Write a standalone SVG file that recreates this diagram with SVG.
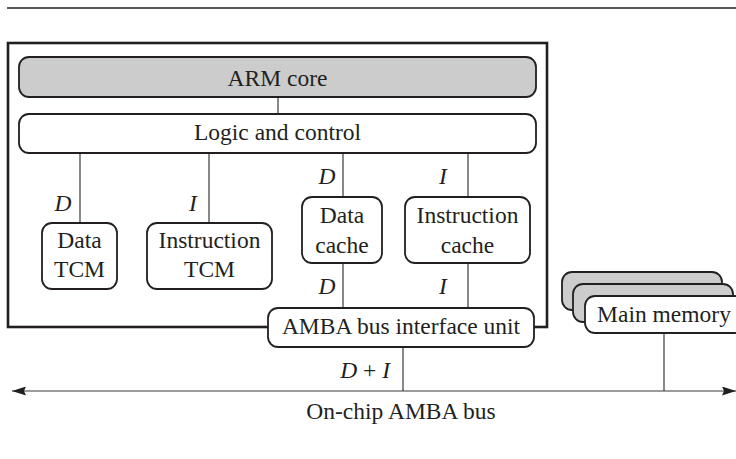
<svg xmlns="http://www.w3.org/2000/svg" width="736" height="459" viewBox="0 0 736 459">
<style>
.box{fill:#ffffff;stroke:#231f20;stroke-width:1.8}
.gray{fill:#cccccc;stroke:#231f20;stroke-width:1.8}
.outer{fill:none;stroke:#231f20;stroke-width:2.6}
.ln{stroke:#3a3a3a;stroke-width:1.2;fill:none}
text{font-family:"Liberation Serif","Times New Roman",serif;font-size:23.5px;fill:#231f20;text-anchor:middle}
.it{font-style:italic}
</style>
<defs>
<marker id="ah" viewBox="0 0 14 9" refX="14" refY="4.5" markerWidth="14" markerHeight="9" markerUnits="userSpaceOnUse" orient="auto-start-reverse">
<path d="M0,0 L14,4.5 L0,9 L2,4.5 Z" fill="#231f20"/>
</marker>
</defs>
<rect width="736" height="459" fill="#ffffff"/>
<line x1="7" y1="8" x2="736" y2="8" stroke="#231f20" stroke-width="1.5"/>
<rect id="chip" class="outer" x="8" y="43" width="539" height="284"/>
<g id="connectors">
<line class="ln" x1="278" y1="97" x2="278" y2="114"/>
<line class="ln" x1="80" y1="153" x2="80" y2="223"/>
<line class="ln" x1="209" y1="153" x2="209" y2="223"/>
<line class="ln" x1="343" y1="153" x2="343" y2="197"/>
<line class="ln" x1="468" y1="153" x2="468" y2="197"/>
<line class="ln" x1="343" y1="263" x2="343" y2="308"/>
<line class="ln" x1="468" y1="263" x2="468" y2="308"/>
<line class="ln" x1="403" y1="347" x2="403" y2="391"/>
<line class="ln" x1="664" y1="333" x2="664" y2="391"/>
<line class="ln" x1="12" y1="391" x2="736" y2="391" stroke-width="1.4" marker-start="url(#ah)" marker-end="url(#ah)"/>
<text class="it" x="63" y="211">D</text>
<text class="it" x="193" y="211">I</text>
<text class="it" x="327" y="184">D</text>
<text class="it" x="443" y="184">I</text>
<text class="it" x="327" y="294">D</text>
<text class="it" x="443" y="294">I</text>
<text x="390" y="378" style="text-anchor:end"><tspan class="it">D</tspan> + <tspan class="it">I</tspan></text>
<text x="401" y="419">On-chip AMBA bus</text>
</g>
<g id="arm-core">
<rect class="gray" x="19" y="57" width="517" height="40" rx="10"/>
<text x="277.5" y="86">ARM core</text>
</g>
<g id="logic-control">
<rect class="box" x="19" y="114" width="517" height="39" rx="10"/>
<text x="277.5" y="140">Logic and control</text>
</g>
<g id="data-tcm">
<rect class="box" x="42" y="223" width="75" height="66" rx="10"/>
<text x="79.5" y="248">Data</text>
<text x="79.5" y="277">TCM</text>
</g>
<g id="instruction-tcm">
<rect class="box" x="147" y="223" width="125" height="66" rx="10"/>
<text x="209.5" y="248">Instruction</text>
<text x="209.5" y="277">TCM</text>
</g>
<g id="data-cache">
<rect class="box" x="302" y="197" width="80" height="66" rx="10"/>
<text x="342" y="223">Data</text>
<text x="342" y="253">cache</text>
</g>
<g id="instruction-cache">
<rect class="box" x="405" y="197" width="125" height="66" rx="10"/>
<text x="467.5" y="223">Instruction</text>
<text x="467.5" y="253">cache</text>
</g>
<g id="amba-biu">
<rect class="box" x="268" y="308" width="266" height="39" rx="10"/>
<text x="401" y="334">AMBA bus interface unit</text>
</g>
<g id="main-memory">
<rect class="gray" x="562" y="272" width="160" height="38" rx="10"/>
<rect class="gray" x="573" y="284" width="160" height="38" rx="10"/>
<rect class="box" x="585" y="296" width="160" height="37" rx="10"/>
<text x="664" y="322">Main memory</text>
</g>
</svg>
